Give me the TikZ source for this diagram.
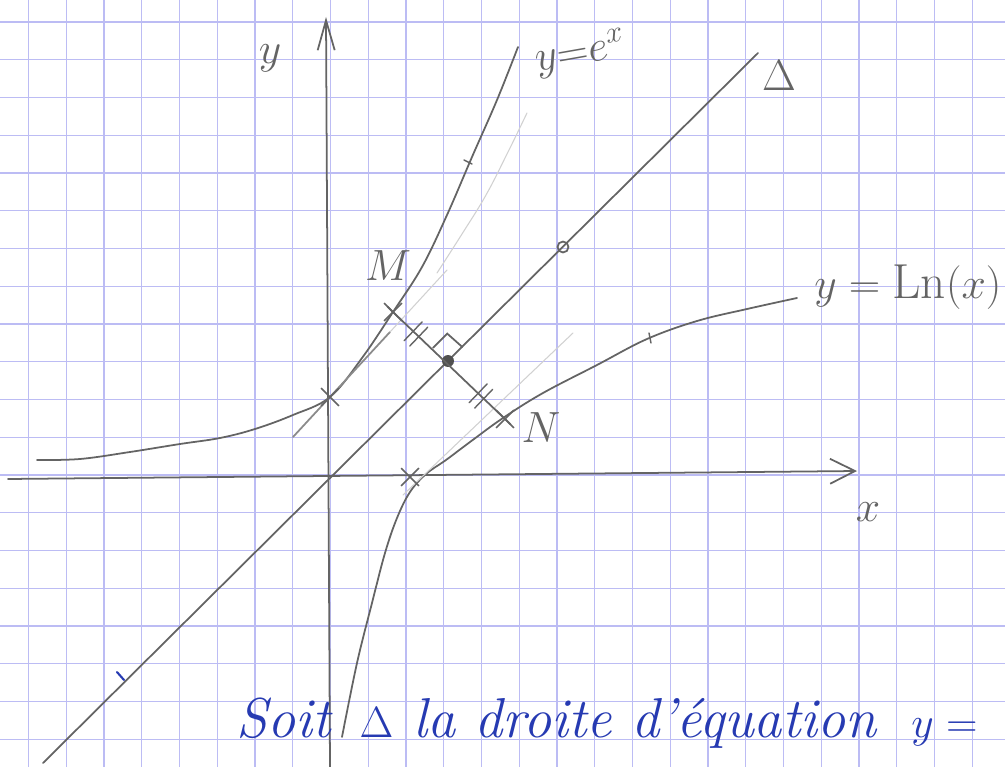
\documentclass[tikz,border=0pt]{standalone}
\usepackage{fontspec}
\usetikzlibrary{calc,arrows.meta,shapes.misc}
\definecolor{gridblue}{RGB}{188,188,244}
\definecolor{pencilgray}{RGB}{100,100,100}
\definecolor{inkblue}{RGB}{38,58,178}
\tikzset{
  gridline/.style={draw=gridblue,line width=.8pt},
  pencil/.style={draw=pencilgray,line width=1pt,line cap=round},
  faint/.style={draw=pencilgray!30,line width=.6pt,line cap=round},
  axisarr/.style={pencil,-{Straight Barb[length=5mm,width=5mm]}},
  crossmark/.style={cross out,draw=pencilgray,line width=1pt,minimum size=3.2mm,inner sep=0pt},
  dotmark/.style={circle,fill=pencilgray!80!black,inner sep=0pt,minimum size=2.4mm},
  ringmark/.style={circle,draw=pencilgray,line width=1pt,inner sep=0pt,minimum size=2.2mm},
  handlabel/.style={text=pencilgray,font=\fontsize{28}{28}\selectfont,inner sep=0pt},
  inktext/.style={text=inkblue,font=\fontsize{32}{32}\selectfont\itshape,inner sep=0pt}
}
\begin{document}
\begin{tikzpicture}[x=.02cm,y=-.02cm]
  \useasboundingbox (0,0) rectangle (1005,767);
  \clip (0,0) rectangle (1005,767);
  \fill[white] (0,0) rectangle (1005,767);

  \foreach \k in {-8,...,17}
    \draw[gridline] ({330.5+37.75*\k},0) -- ++(0,767);
  \foreach \k in {-12,...,7}
    \draw[gridline] (0,{475+37.75*\k}) -- ++(1005,0);

  % axes
  \coordinate (xs) at (8,479);
  \coordinate (xe) at (857,471);
  \coordinate (ys) at (330,767);
  \coordinate (ye) at (326,17);
  \draw[axisarr] (xs) -- (xe);
  \draw[pencil,-{Straight Barb[length=6mm,width=3.4mm]}] (ys) -- (ye);
  \node[handlabel] (xlab) at (868,512) {$x$};
  \node[handlabel] (ylab) at (270,58) {$y$};

  % droite Delta
  \coordinate (d1) at (43,763);
  \coordinate (d2) at (758,53);
  \draw[pencil] (d1) -- (d2);
  \node[handlabel,font=\fontsize{34}{34}\selectfont] (dlab) at (779,76) {$\Delta$};
  \draw[draw=inkblue,line width=1.2pt,line cap=round] (117,672) -- (124,680);

  % courbes
  \draw[pencil] plot[smooth,tension=.6] coordinates {(37,460) (80,459) (130,452)
    (180,444) (220,438) (255,429) (293,415) (330,397) (362,358) (393,312) (422,267)
    (447,215) (472,157) (497,100) (518,47)};
  \draw[pencil] plot[smooth,tension=.6] coordinates {(342,737) (357,663) (372,603)
    (385,553) (397,518) (410,492) (426,474) (446,460) (470,442) (503,418) (543,393)
    (597,365) (647,339) (697,321) (747,309) (797,298)};
  \node[handlabel,anchor=base west,rotate=10,font=\fontsize{26}{26}\selectfont] (elab) at (537,72) {$y{=}e^{x}$};
  \node[handlabel,anchor=base west] (llab) at (814,298) {$y=\mathrm{Ln}(x)$};
  \draw[pencil,line width=.8pt] (464,160) -- (472,164);
  \draw[pencil,line width=.8pt] (649,333) -- (651,343);

  % tangentes et traits effaces
  \coordinate (t1) at (293,437);
  \coordinate (t2) at (390,332);
  \coordinate (t3) at (447,270);
  \draw[pencil,draw=pencilgray!75] (t1) -- (t2);
  \draw[faint] (t2) -- (t3);
  \draw[faint] (403,495) -- (573,333);
  \draw[faint] plot[smooth,tension=.7] coordinates {(527,113) (508,152) (486,195) (462,234) (437,273)};

  % points
  \node[crossmark] (A) at (330,397) {};
  \node[crossmark] (B) at (410,477) {};
  \node[crossmark] (M) at (393,312) {};
  \node[crossmark] (N) at (505,419) {};
  \node[dotmark] (H) at (448,361) {};
  \node[ringmark] (P) at (563,247) {};
  \node[handlabel] (mlab) at (388,266) {$M$};
  \node[handlabel] (nlab) at (541,428) {$N$};

  \draw[pencil,shorten <=-1.5mm,shorten >=-1.5mm] (M.center) -- (N.center);
  \foreach \t in {.18,.23,.76,.81}
    \draw[pencil,line width=.8pt] ($(M)!\t!(N)!.26cm!90:(N)$) -- ($(M)!\t!(N)!.26cm!-90:(N)$);
  \coordinate (ra1) at ($(H)!.4cm!(M)$);
  \coordinate (ra2) at ($(H)!.4cm!(P)$);
  \draw[pencil] (ra1) -- ($(ra1)+(ra2)-(H)$) -- (ra2);

  % texte a l'encre
  \node[inktext,anchor=base west] (soit) at (236,737) {Soit\, $\Delta$ la droite d'équation\; $y=$};
\end{tikzpicture}
\end{document}
